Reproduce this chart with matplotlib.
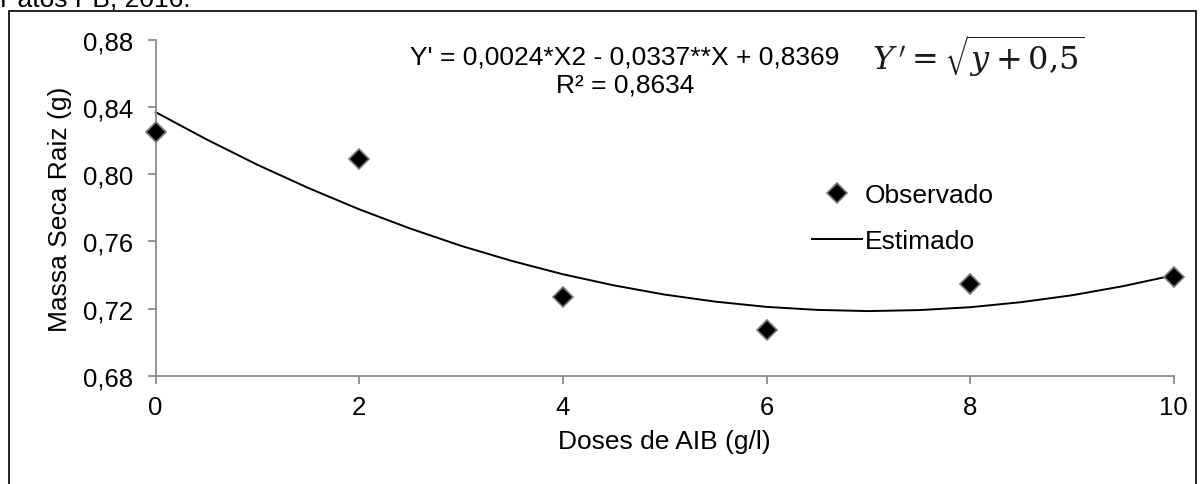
import matplotlib
matplotlib.use('Agg')
import matplotlib.pyplot as plt
from matplotlib.patches import Rectangle
from matplotlib.ticker import FuncFormatter

plt.rcParams['font.family'] = ['Liberation Sans', 'DejaVu Sans']
plt.rcParams['mathtext.fontset'] = 'dejavuserif'

# observed points
doses = [0, 2, 4, 6, 8, 10]
observado = [0.8253, 0.809, 0.7271, 0.7075, 0.7348, 0.739]

# estimated curve
x_est = [0, 0.5, 1, 1.5, 2, 2.5, 3, 3.5, 4, 4.5, 5, 5.5, 6, 6.5, 7, 7.5, 8, 8.5, 9, 9.5, 10]
estimado = [0.8369, 0.8207, 0.8056, 0.7918, 0.7791, 0.7677, 0.7574, 0.7484, 0.7405, 0.7339,
            0.7284, 0.7242, 0.7211, 0.7193, 0.7186, 0.7192, 0.7209, 0.7239, 0.728, 0.7334, 0.7399]

xticks = [0, 2, 4, 6, 8, 10]
yticks = [0.68, 0.72, 0.76, 0.80, 0.84, 0.88]

W, H = 1203, 485
fig = plt.figure(figsize=(12.03, 4.85), dpi=100)
ax = fig.add_axes([0.1294, 0.2227, 0.8463, 0.6934])

# outer frame
fig.patches.append(Rectangle((0.0075, -0.05), 0.9867, 1.025, transform=fig.transFigure,
                             fill=False, edgecolor='black', linewidth=1.2))
fig.text(0.0, 1 - 7 / H, 'Patos PB, 2016.', fontsize=19, ha='left', va='baseline')

ax.plot(x_est, estimado, color='black', linewidth=1.4, label='Estimado', clip_on=False, zorder=2)
ax.plot(doses, observado, linestyle='none', marker='D', markersize=10.5,
        markerfacecolor='black', markeredgecolor='#7a7a7a', markeredgewidth=1.2,
        label='Observado', clip_on=False, zorder=3)

ax.set_xlim(0, 10)
ax.set_ylim(0.68, 0.88)
ax.set_xticks(xticks)
ax.set_yticks(yticks)
ax.yaxis.set_major_formatter(FuncFormatter(lambda v, p: f'{v:.2f}'.replace('.', ',')))

for s in ['top', 'right']:
    ax.spines[s].set_visible(False)
for s in ['left', 'bottom']:
    ax.spines[s].set_color('#8c8c8c')
    ax.spines[s].set_linewidth(1.3)
ax.tick_params(colors='#8c8c8c', width=1.3, length=6, labelsize=18.5, labelcolor='black')
ax.tick_params(axis='x', pad=8)
ax.tick_params(axis='y', pad=10.5)

ax.set_xlabel('Doses de AIB (g/l)', fontsize=19, va='center')
ax.xaxis.set_label_coords(0.5, (377 - 442) / 336.3)
ax.set_ylabel('Massa Seca Raiz (g)', fontsize=19, va='center')
ax.yaxis.set_label_coords((60 - 155.7) / 1018, 0.5)

fig.text(625 / W, 1 - 58 / H, "Y' = 0,0024*X2 - 0,0337**X + 0,8369",
         fontsize=19, ha='center', va='center')
fig.text(625 / W, 1 - 86 / H, "R² = 0,8634", fontsize=19, ha='center', va='center')
fig.text(872 / W, 1 - 57 / H, r"$Y\,' = \sqrt{y + 0{,}5}$", fontsize=23,
         ha='left', va='center', color='#1a1a1a')

handles, labels = ax.get_legend_handles_labels()
ax.legend(handles[::-1], labels[::-1], loc='upper left', bbox_to_anchor=(0.645, 0.574),
          frameon=False, fontsize=19, handlelength=1.9, handletextpad=0.1,
          labelspacing=0.85, borderpad=0, borderaxespad=0)

fig.savefig('out.png', dpi=100)
